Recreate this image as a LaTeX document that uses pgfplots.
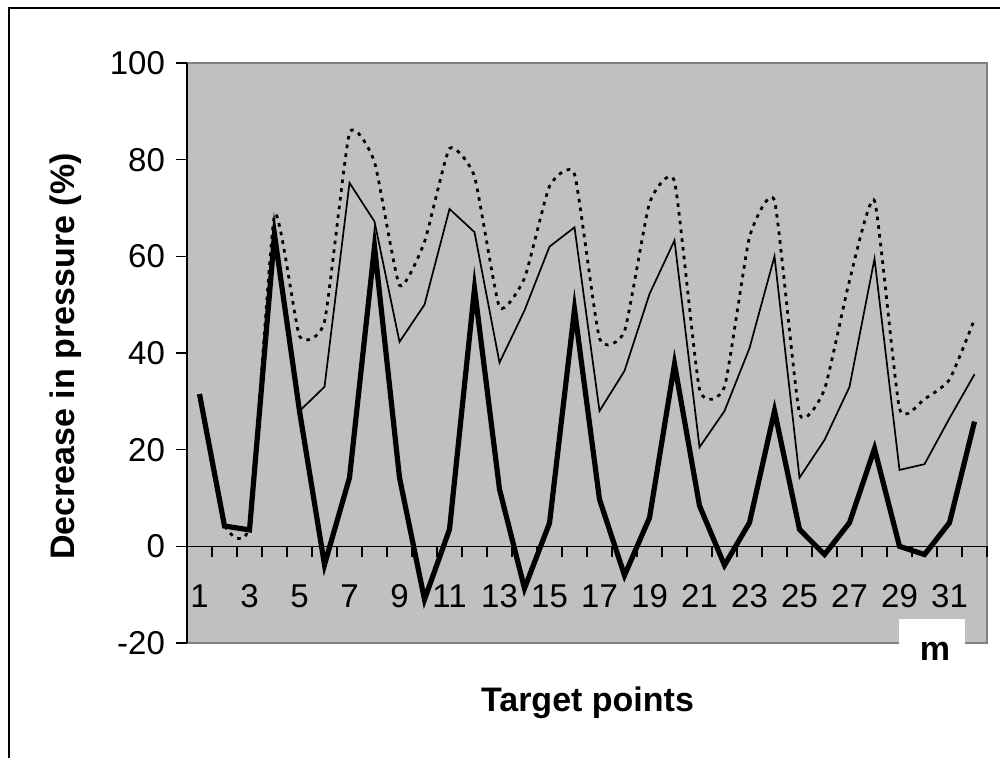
\documentclass[border=0pt]{standalone}
\usepackage{pgfplots}
\pgfplotsset{compat=1.18}
\usepackage{fontspec}
\setmainfont{Liberation Sans}
\definecolor{plotgray}{HTML}{C0C0C0}
\definecolor{framegray}{HTML}{808080}
\begin{document}
\begin{tikzpicture}
\useasboundingbox (0,0) rectangle (500pt,379pt);
% background box
\begin{axis}[
  at={(93.5pt,57.5pt)}, anchor=south west,
  width=400pt, height=290pt, scale only axis,
  xmin=0.5, xmax=32.5, ymin=-20, ymax=100,
  axis background/.style={fill=plotgray},
  axis line style={draw=framegray, line width=1pt},
  xtick=\empty, ytick=\empty,
]
\end{axis}
% axes and data
\begin{axis}[
  at={(93.5pt,57.5pt)}, anchor=south west,
  width=400pt, height=290pt, scale only axis,
  xmin=0.5, xmax=32.5, ymin=-20, ymax=100,
  axis x line=middle, axis y line=left,
  axis line style={-, black, line width=0.6pt},
  x axis line style={-, black, line width=0.6pt},
  tick style={black, line width=0.6pt},
  xtick={0.5,1.5,...,32.5}, xticklabels={},
  ytick={-20,0,...,100},
  tick align=outside,
  major tick length=5.5pt,
  extra x ticks={1,3,...,31},
  extra x tick style={major tick length=0pt, xticklabel style={anchor=north, yshift=-15.5pt}},
  extra x tick labels={1,3,5,7,9,11,13,15,17,19,21,23,25,27,29,31},
  /pgf/number format/assume math mode=true,
  every tick label/.append style={font=\fontsize{16.5}{19}\selectfont},
  yticklabel style={anchor=east, xshift=-2pt},
  clip=false,
]
\addplot[black, line width=1.4pt, dash pattern=on 1.8pt off 2.6pt, smooth, tension=0.3] coordinates {
(1,31) (2,4.5) (3,4.5) (4,68.5) (5,43.5) (6,46.5) (7,85.5) (8,79.5)
(9,54) (10,63) (11,82.3) (12,76.5) (13,49.5) (14,55.5) (15,74.5) (16,77)
(17,43) (18,44.5) (19,71) (20,75.5) (21,32.5) (22,33) (23,64) (24,71.5)
(25,27.5) (26,32.5) (27,55) (28,71.5) (29,28.5) (30,30.5) (31,34.5) (32,47)
};
\addplot[black, line width=0.85pt] coordinates {
(1,31) (2,4.2) (3,3.4) (4,65) (5,28) (6,33) (7,75.2) (8,67.2)
(9,42.3) (10,50) (11,69.8) (12,65) (13,38) (14,48.8) (15,62) (16,66)
(17,28) (18,36.3) (19,52.2) (20,63.3) (21,20.5) (22,28) (23,41) (24,60)
(25,14.2) (26,22) (27,33) (28,59.5) (29,15.8) (30,17) (31,26.5) (32,35.6)
};
\addplot[black, line width=2.6pt] coordinates {
(1,31.5) (2,4.2) (3,3.4) (4,64.5) (5,28) (6,-3.8) (7,14.2) (8,62)
(9,14.2) (10,-11) (11,3.5) (12,53.3) (13,11.8) (14,-8.7) (15,4.8) (16,49)
(17,9.7) (18,-6) (19,5.9) (20,37.7) (21,8.4) (22,-3.9) (23,4.9) (24,28)
(25,3.5) (26,-1.7) (27,4.9) (28,20.2) (29,0) (30,-1.7) (31,4.9) (32,25.8)
};
\end{axis}
% outer frame (left and top)
\draw[black, line width=1.3pt] (4.5pt,0) -- (4.5pt,375pt) -- (500pt,375pt);
% white box with m
\fill[white] (449.5pt,45pt) rectangle (482.5pt,69.5pt);
\node[anchor=base, font=\fontsize{17}{20}\selectfont\bfseries, inner sep=0pt] at (467.5pt,48.6pt) {m};
\node[anchor=base, font=\fontsize{17}{20}\selectfont\bfseries, inner sep=0pt] at (293.75pt,23.2pt) {Target points};
\node[rotate=90, font=\fontsize{17}{20}\selectfont\bfseries, inner sep=0pt] at (33pt,200.75pt) {Decrease in pressure (\%)};
\end{tikzpicture}
\end{document}
